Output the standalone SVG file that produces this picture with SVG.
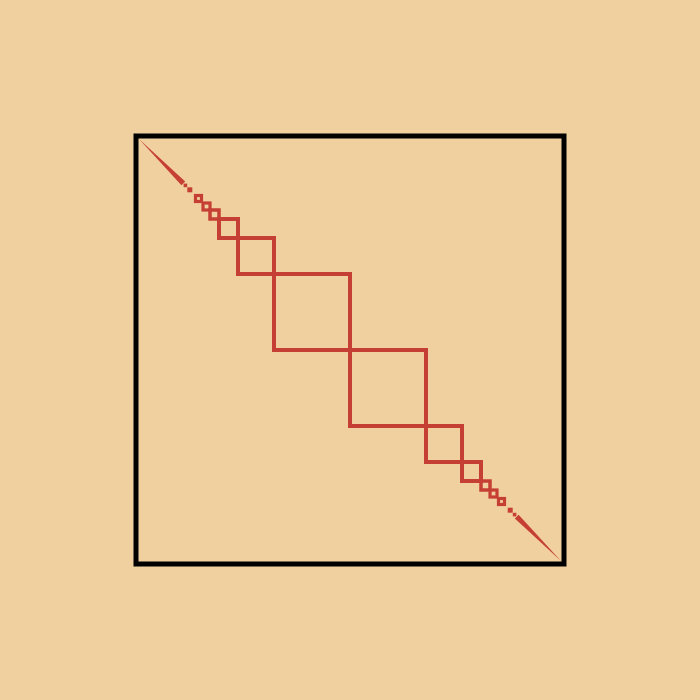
<svg xmlns="http://www.w3.org/2000/svg" xmlns:xlink="http://www.w3.org/1999/xlink" width="700" height="700" viewBox="0 0 700 700">
  <style>
    .frame { fill: none; stroke: #000000; stroke-width: 5; }
    .sq { fill: none; stroke: #C63F35; }
    .dot { fill: #C63F35; }
  </style>
  <defs>
    <g id="chain">
      <rect class="sq" x="274" y="274" width="76" height="76" stroke-width="4"/>
      <rect class="sq" x="238" y="238" width="36" height="36" stroke-width="4"/>
      <rect class="sq" x="219" y="219" width="19" height="19" stroke-width="4"/>
      <rect class="sq" x="210" y="210" width="9" height="9" stroke-width="3.5"/>
      <rect class="sq" x="203" y="203" width="7" height="7" stroke-width="3.2"/>
      <rect class="sq" x="195.5" y="195.5" width="6" height="6" stroke-width="3.2"/>
      <rect class="dot" x="187.3" y="187.3" width="5" height="5"/>
      <rect class="dot" x="183.6" y="183.6" width="3.6" height="3.6"/>
      <polygon class="dot" points="139,139 185.2,181.4 181.4,185.2"/>
    </g>
  </defs>
  <rect width="700" height="700" fill="#F1D09F"/>
  <g id="frame">
    <rect class="frame" x="136" y="136" width="428" height="428"/>
  </g>
  <g id="fractal">
    <use xlink:href="#chain"/>
    <use xlink:href="#chain" transform="rotate(180 350 350)"/>
  </g>
</svg>
